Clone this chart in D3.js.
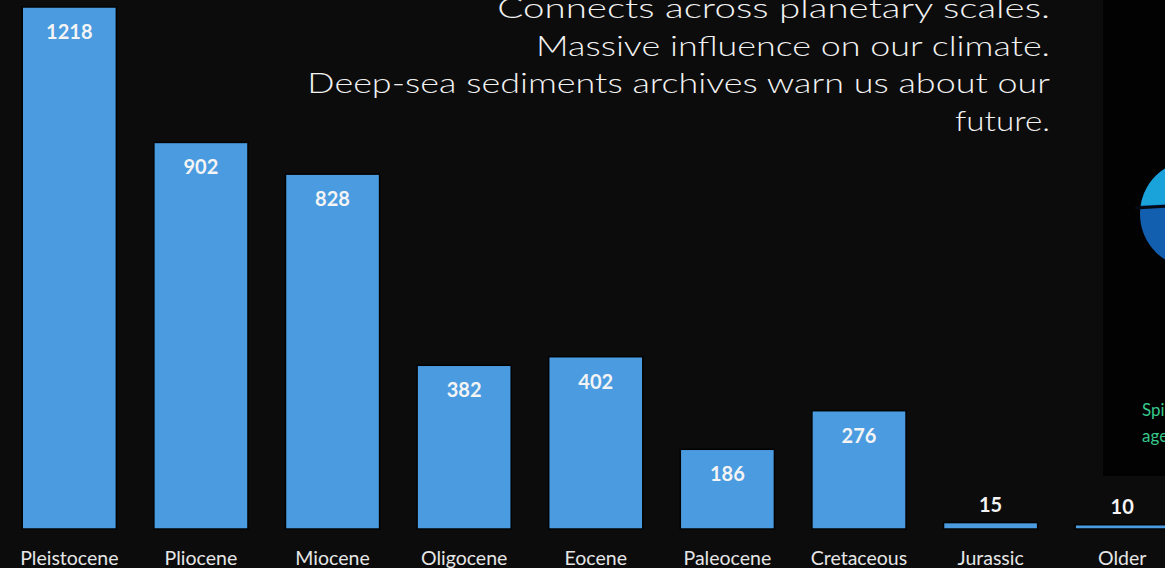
<!DOCTYPE html>
<html>
<head>
<meta charset="utf-8">
<script src="https://cdn.jsdelivr.net/npm/d3@7"></script>
<style>
  html, body { margin: 0; padding: 0; background: #0c0c0c; overflow: hidden; }
  svg { display: block; }
</style>
</head>
<body>
<svg id="chart" width="1165" height="568"></svg>
<script>
const categories = ["Pleistocene", "Pliocene", "Miocene", "Oligocene", "Eocene", "Paleocene", "Cretaceous", "Jurassic", "Older"];
const counts = [1218, 902, 828, 382, 402, 186, 276, 15, 10];
const overlayLines = [
  "Connects across planetary scales.",
  "Massive influence on our climate.",
  "Deep-sea sediments archives warn us about our",
  "future."
];
const sideText = ["Spi", "age"];

(function () {
const W = 1165, H = 568;
const svg = d3.select("#chart");

svg.append("rect").attr("width", W).attr("height", H).attr("fill", "#0c0c0c");

// right-side photo panel (partially visible)
const panel = svg.append("g");
panel.append("rect").attr("x", 1103).attr("y", 0).attr("width", 62).attr("height", 476).attr("fill", "#020202");
const pclip = svg.append("clipPath").attr("id", "pclip");
pclip.append("rect").attr("x", 1103).attr("y", 0).attr("width", 62).attr("height", 476);
const circ = panel.append("g").attr("clip-path", "url(#pclip)");
const cx = 1194, cy = 214, r = 54;
circ.append("circle").attr("cx", cx).attr("cy", cy).attr("r", r).attr("fill", "#125fb0");
const topClip = svg.append("clipPath").attr("id", "topHalf");
topClip.append("path").attr("d", "M1100,0 L1200,0 L1200,203 L1100,207 Z");
circ.append("circle").attr("cx", cx).attr("cy", cy).attr("r", r).attr("fill", "#1aa2da").attr("clip-path", "url(#topHalf)");
circ.append("line").attr("x1", 1135).attr("y1", 208).attr("x2", 1200).attr("y2", 204)
  .attr("stroke", "#050a14").attr("stroke-width", 3);
circ.selectAll("text.side").data(sideText).join("text")
  .attr("class", "side")
  .attr("x", 1142).attr("y", (d, i) => 416 + i * 26)
  .attr("fill", "#36c98b")
  .style("font-family", "Lato, 'Open Sans', sans-serif")
  .style("font-size", "17px")
  .text(d => d);

// chart
const baseY = 529;
const x = d3.scaleBand().domain(categories).range([3.5, 1188]).paddingInner(0.285).paddingOuter(0.1425);
const y = d3.scaleLinear().domain([0, 1218]).range([baseY, 7]);

const bars = svg.append("g");
bars.selectAll("rect").data(categories).join("rect")
  .attr("x", d => x(d))
  .attr("width", x.bandwidth())
  .attr("y", (d, i) => y(counts[i]))
  .attr("height", (d, i) => baseY - y(counts[i]))
  .attr("fill", "#4a9be0")
  .attr("stroke", "#030303")
  .attr("stroke-width", 1.5);

bars.selectAll("text.val").data(categories).join("text")
  .attr("class", "val")
  .attr("x", d => x(d) + x.bandwidth() / 2)
  .attr("y", (d, i) => {
    const h = baseY - y(counts[i]);
    return h > 40 ? y(counts[i]) + 32 : y(counts[i]) - 11;
  })
  .attr("text-anchor", "middle")
  .attr("fill", "#f4f4f4")
  .style("font-family", "Lato, 'Open Sans', sans-serif")
  .style("font-weight", "bold")
  .style("font-size", "20px")
  .text((d, i) => counts[i]);

const xAxis = d3.axisBottom(x).tickSize(0).tickPadding(0);
const ax = svg.append("g").attr("transform", `translate(0, ${baseY})`).call(xAxis);
ax.select(".domain").remove();
ax.selectAll("text")
  .attr("y", 36).attr("dy", 0)
  .attr("fill", "#e6e6e6")
  .style("font-family", "Lato, 'Open Sans', sans-serif")
  .style("font-size", "19.5px");

// overlay text, each line fitted to the width it has in the reference
const lineWidths = [553, 514, 743, 95];
const og = svg.append("g");
overlayLines.forEach((line, i) => {
  const t = og.append("text")
    .attr("x", 0).attr("y", 0)
    .attr("text-anchor", "end")
    .attr("fill", "#f2f2f2")
    .style("font-family", "Lato, sans-serif")
    .style("font-weight", "300")
    .style("font-size", "28px")
    .text(line);
  const k = lineWidths[i] / t.node().getComputedTextLength();
  t.attr("transform", `translate(1050, ${18 + i * 37.7}) scale(${k},1)`);
});
})();
</script>
</body>
</html>
